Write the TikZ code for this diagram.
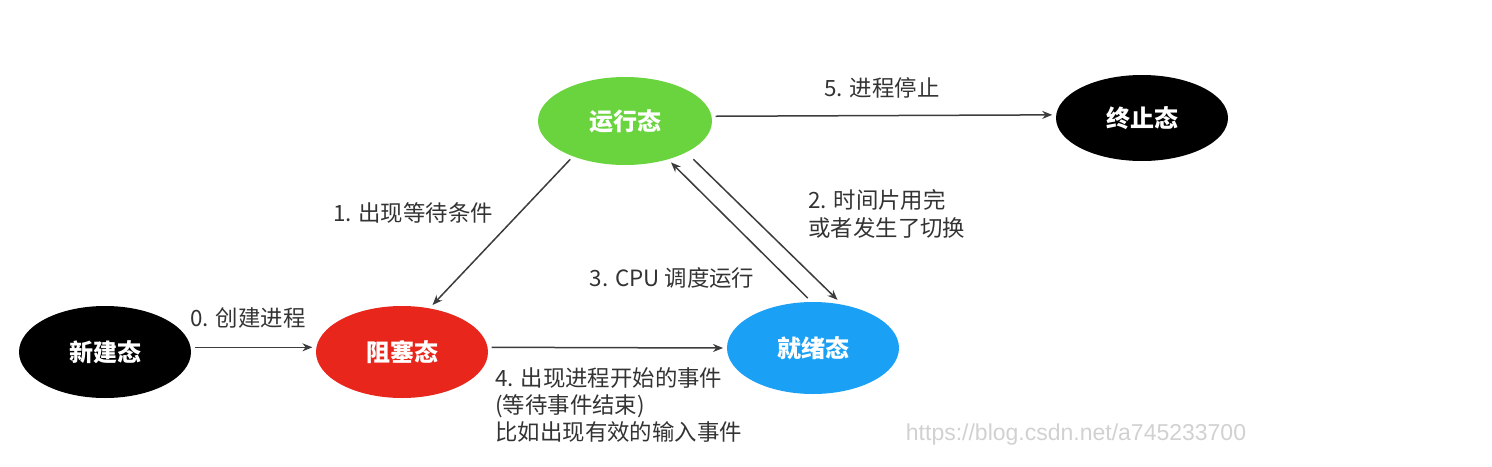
\documentclass[tikz,border=0pt]{standalone}
\usepackage{fontspec}
\newfontfamily\cjk{Noto Sans CJK SC}
\newfontfamily\wmfont{Liberation Sans}
\usetikzlibrary{arrows.meta,shapes.geometric}
\definecolor{rungreen}{HTML}{6AD43E}
\definecolor{blockred}{HTML}{E8261C}
\definecolor{readyblue}{HTML}{1AA1F5}
\definecolor{labelgray}{HTML}{333333}
\definecolor{linegray}{HTML}{3C3C3C}
\tikzset{
  state/.style={ellipse, minimum width=86pt, minimum height=46pt, inner sep=0pt, outer sep=2pt, text=white, font=\cjk\bfseries\fontsize{12}{14}\selectfont},
  lbl/.style={text=labelgray, inner sep=0pt, font=\cjk\fontsize{11.2}{13.6}\selectfont},
  edge/.style={draw=linegray, line width=0.75pt, -{Stealth[length=5pt,width=4pt]}}
}

\begin{document}
\begin{tikzpicture}[x=0.5pt,y=-0.5pt]
		%%%%% START %%%%%
		\useasboundingbox (0,0) rectangle (1492,466);
		
		\node[state, fill=black] (new) at (105,352) {新建态};
		\node[state, fill=blockred] (block) at (402,352) {阻塞态};
		\node[state, fill=readyblue] (ready) at (813,348) {就绪态};
		\node[state, fill=rungreen, minimum width=87pt, minimum height=44pt] (run) at (625,121) {运行态};
		\node[state, fill=black, minimum height=43pt] (term) at (1142,118) {终止态};
		
		\draw[edge] (new.3) -- (block.177);
		\draw[edge] (run.-145) -- (block.57);
		\draw[edge, shorten <=3pt] (run.-28) -- (ready.63);
		\draw[edge] (ready.96) -- (run.-42);
		\draw[edge] (block.3) -- (ready.west);
		\draw[edge] (run.3) -- (term.178);
		
		\node[lbl] (l0) at (248,318) {0. 创建进程};
		\node[lbl] (l1) at (413,213) {1. 出现等待条件};
		\node[lbl, anchor=west, align=left] (l2) at (808,214) {2. 时间片用完\\或者发生了切换};
		\node[lbl] (l3) at (672,278) {3. CPU 调度运行};
		\node[lbl, anchor=west, align=left] (l4) at (495,405) {4. 出现进程开始的事件\\(等待事件结束)\\比如出现有效的输入事件};
		\node[lbl] (l5) at (882,88) {5. 进程停止};
		
		\node[text=black!18, inner sep=0pt, font=\wmfont\fontsize{11.5}{13}\selectfont] (mark) at (1076,435) {https://blog.csdn.net/a745233700};
		%%%%% END %%%%%
\end{tikzpicture}
\end{document}
